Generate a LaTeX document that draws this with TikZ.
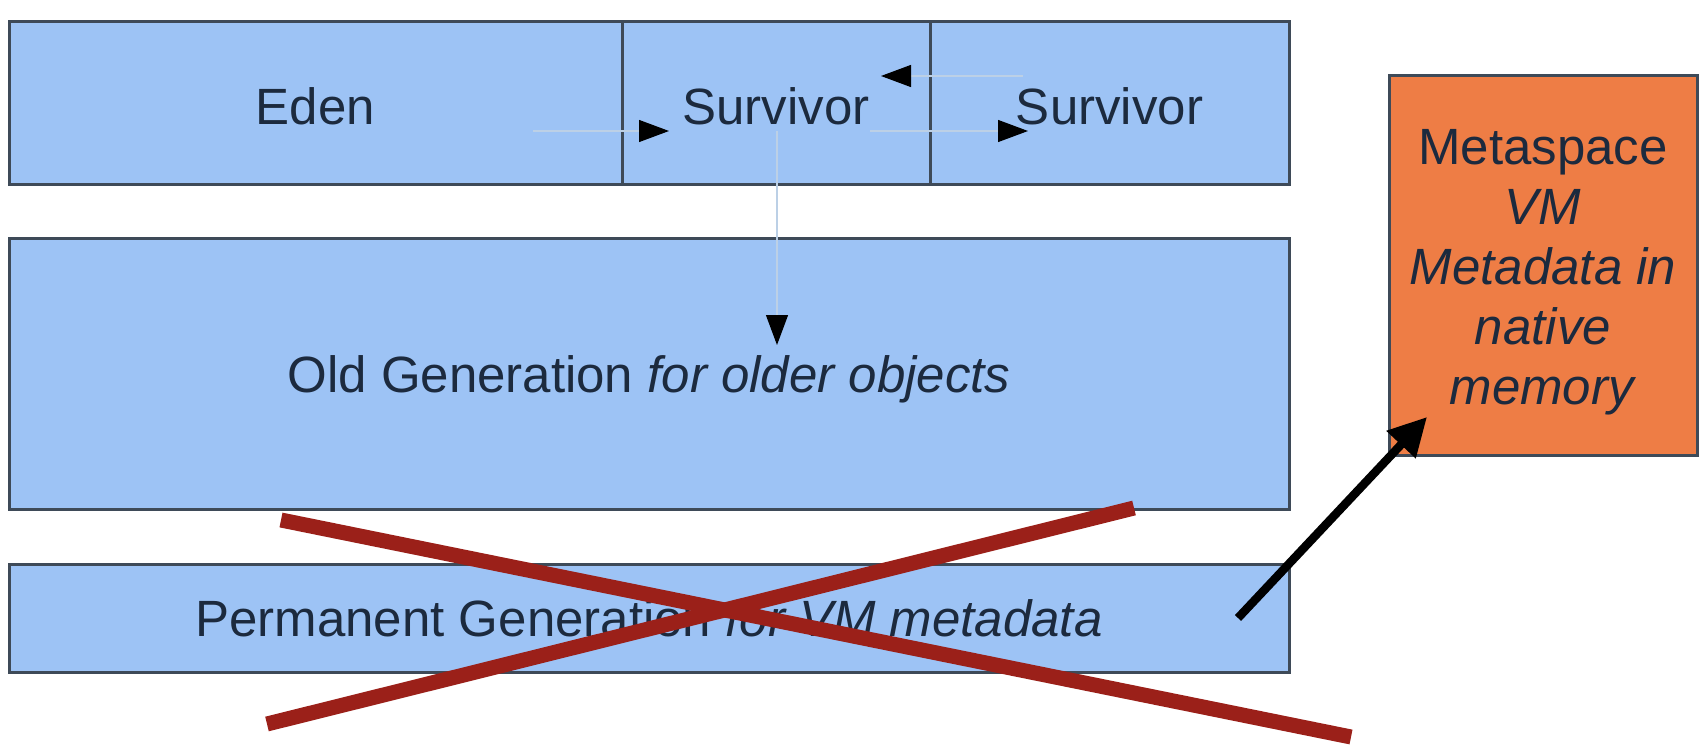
\documentclass[tikz,border=0pt]{standalone}
\usepackage{fontspec}
\setmainfont{Liberation Sans}
\usetikzlibrary{arrows.meta}
\definecolor{boxblue}{HTML}{9DC3F5}
\definecolor{boxedge}{HTML}{3E4A58}
\definecolor{metaorange}{HTML}{EE7D45}
\definecolor{txt}{HTML}{1C2A3E}
\definecolor{crossred}{HTML}{9B2019}
\definecolor{faint}{HTML}{BCD0E6}
\tikzset{
  region/.style={draw=boxedge, line width=3pt, fill=boxblue, inner sep=0pt, outer sep=0pt,
    text=txt, font=\fontsize{51}{60}\selectfont},
  boxtext/.style={text=txt, font=\fontsize{51}{60}\selectfont, align=center, inner sep=0pt},
  metabox/.style={draw=boxedge, line width=3pt, fill=metaorange, inner sep=0pt, outer sep=0pt},
  smallarrow/.style={draw=faint, line width=1.2pt, -{Triangle[length=30pt,width=22pt,fill=black,color=black]}},
  bigarrow/.style={draw=black, line width=8.5pt, -{Triangle[length=38pt,width=38pt]}},
  crossline/.style={draw=crossred, line width=15pt}
}
\begin{document}
\begin{tikzpicture}[x=1pt,y=-1pt]
\useasboundingbox[fill=white] (0,0) rectangle (1706,754);
% top row
\node[region, minimum width=613pt, minimum height=163pt,
  label={[boxtext,yshift=-3pt]center:Eden}] (eden) at (315.5,103.5) {};
\node[region, minimum width=308pt, minimum height=163pt,
  label={[boxtext,yshift=-3pt]center:Survivor}] (surv1) at (776,103.5) {};
\node[region, minimum width=359pt, minimum height=163pt,
  label={[boxtext,yshift=-3pt]center:Survivor}] (surv2) at (1109.5,103.5) {};
% old generation
\node[region, minimum width=1280pt, minimum height=270pt,
  label={[boxtext,yshift=-5pt]center:Old Generation \textit{for older objects}}] (old) at (649,374) {};
% permanent generation
\node[region, minimum width=1280pt, minimum height=108pt,
  label={[boxtext]center:Permanent Generation \textit{for VM metadata}}] (perm) at (649,618) {};
% metaspace
\node[metabox, minimum width=308pt, minimum height=379pt,
  label={[boxtext,yshift=-7pt]center:{Metaspace\\ \textit{VM}\\ \textit{Metadata in}\\ \textit{native}\\ \textit{memory}}}] (meta) at (1543,265.5) {};
% small copy arrows
\coordinate (a1s) at (533,131);
\coordinate (a1e) at (669,131);
\draw[smallarrow] (a1s) -- (a1e);
\coordinate (a2s) at (1023,76);
\coordinate (a2e) at (881,76);
\draw[smallarrow] (a2s) -- (a2e);
\coordinate (a3s) at (870,131);
\coordinate (a3e) at (1028,131);
\draw[smallarrow] (a3s) -- (a3e);
\coordinate (a4s) at (777,131);
\coordinate (a4e) at (777,345);
\draw[smallarrow] (a4s) -- (a4e);
% red cross
\coordinate (x1s) at (281,520);
\coordinate (x1e) at (1351,737);
\coordinate (x2s) at (267,724);
\coordinate (x2e) at (1134,508);
\draw[crossline] (x1s) -- (x1e);
\draw[crossline] (x2s) -- (x2e);
% move arrow
\coordinate (bs) at (1238,618);
\coordinate (be) at (1427,417);
\draw[bigarrow] (bs) -- (be);
\end{tikzpicture}
\end{document}
